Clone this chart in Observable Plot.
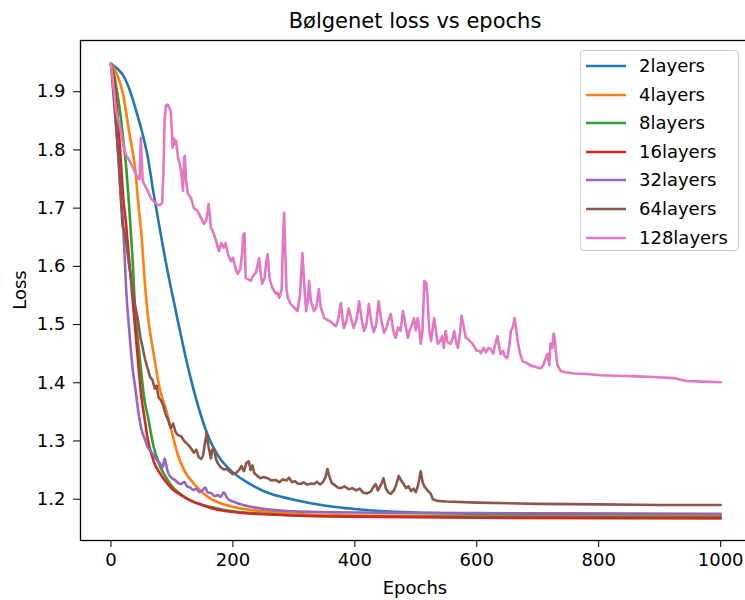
<!DOCTYPE html>
<html><head><meta charset="utf-8">
<script src="https://cdn.jsdelivr.net/npm/d3@7"></script>
<script src="https://cdn.jsdelivr.net/npm/@observablehq/plot@0.6"></script>
<style>
html,body{margin:0;padding:0;background:#fff;overflow:hidden;}
#wrap{position:relative;width:745px;height:600px;overflow:hidden;font-family:"DejaVu Sans",sans-serif;color:#000;background:#fff;}
#wrap > svg{position:absolute;left:0;top:0;max-width:none !important;width:750px;height:600px;}
.title{position:absolute;left:80px;width:670px;top:10.5px;text-align:center;font-size:21px;line-height:1;white-space:nowrap;}
.xlabel{position:absolute;left:415px;top:588px;transform:translate(-50%,-50%);font-size:18px;line-height:1;white-space:nowrap;}
.ylabel{position:absolute;left:20px;top:290px;transform:translate(-50%,-50%) rotate(-90deg);font-size:18px;line-height:1;white-space:nowrap;}
.legend{position:absolute;left:580px;top:50px;width:159px;height:201px;box-sizing:border-box;border:1px solid #cccccc;border-radius:4px;background:rgba(255,255,255,0.8);}
.legend .row{position:absolute;left:0;height:28px;display:flex;align-items:center;font-size:18px;line-height:1;white-space:nowrap;}
.legend svg{display:block;margin-left:5px;margin-right:13px;}
</style></head><body><div id="wrap"></div>
<script>
const chartTitle = "Bølgenet loss vs epochs";
const xLabel = "Epochs";
const yLabel = "Loss";
const seriesNames = ["2layers","4layers","8layers","16layers","32layers","64layers","128layers"];
const seriesColors = ["#1f77b4","#ff7f0e","#2ca02c","#d62728","#9467bd","#8c564b","#e377c2"];
const xTicks = [0,200,400,600,800,1000];
const yTicks = [1.2,1.3,1.4,1.5,1.6,1.7,1.8,1.9];

const loss2 = [[0,1.948],[10,1.940],[20,1.928],[30,1.905],[40,1.872],[50,1.835],[60,1.79],[70,1.725],[80,1.665],[90,1.607],[100,1.555],[110,1.505],[120,1.456],[130,1.411],[140,1.371],[150,1.336],[160,1.307],[170,1.285],[180,1.268],[190,1.256],[200,1.246],[225,1.228],[250,1.214],[300,1.199],[350,1.189],[400,1.183],[450,1.179],[500,1.177],[600,1.175],[700,1.174],[800,1.173],[1000,1.172]];
const loss4 = [[0,1.948],[10,1.93],[20,1.895],[30,1.83],[40,1.765],[46,1.695],[50,1.655],[55,1.58],[60,1.52],[70,1.45],[80,1.39],[90,1.355],[100,1.315],[110,1.275],[120,1.25],[140,1.222],[160,1.203],[180,1.193],[200,1.187],[225,1.182],[250,1.179],[300,1.175],[400,1.172],[600,1.171],[1000,1.170]];
const loss8 = [[0,1.948],[5,1.93],[10,1.90],[15,1.865],[20,1.82],[25,1.77],[30,1.70],[35,1.62],[40,1.52],[45,1.465],[50,1.415],[55,1.37],[60,1.345],[70,1.29],[80,1.258],[90,1.238],[100,1.222],[115,1.208],[130,1.198],[150,1.19],[170,1.185],[200,1.179],[250,1.175],[300,1.172],[400,1.170],[1000,1.169]];
const loss16 = [[0,1.948],[5,1.92],[10,1.87],[15,1.80],[20,1.72],[25,1.67],[30,1.61],[35,1.55],[40,1.49],[45,1.43],[50,1.375],[55,1.34],[60,1.305],[70,1.265],[80,1.245],[90,1.23],[100,1.218],[115,1.207],[130,1.198],[150,1.19],[170,1.183],[200,1.178],[250,1.174],[300,1.172],[400,1.170],[600,1.168],[1000,1.167]];
const loss32 = [[0,1.948],[5,1.90],[10,1.82],[15,1.74],[20,1.67],[25,1.56],[30,1.49],[35,1.43],[40,1.39],[45,1.35],[50,1.32],[55,1.305],[60,1.29],[65,1.283],[70,1.275],[75,1.268],[80,1.262],[85,1.255],[88,1.27],[90,1.262],[93,1.248],[98,1.238],[105,1.233],[110,1.228],[115,1.226],[120,1.23],[125,1.222],[130,1.22],[135,1.216],[140,1.218],[145,1.212],[150,1.215],[155,1.22],[158,1.212],[165,1.21],[170,1.205],[175,1.207],[180,1.204],[185,1.212],[190,1.203],[195,1.198],[200,1.196],[210,1.192],[220,1.189],[240,1.185],[260,1.182],[300,1.179],[400,1.177],[600,1.176],[1000,1.175]];
const loss64 = [[0,1.948],[3,1.91],[6,1.87],[10,1.82],[13,1.78],[16,1.72],[19,1.67],[22,1.66],[25,1.64],[30,1.60],[33,1.58],[36,1.555],[40,1.53],[44,1.51],[48,1.48],[52,1.46],[56,1.44],[60,1.425],[64,1.41],[68,1.405],[72,1.39],[75,1.395],[78,1.375],[82,1.37],[86,1.36],[90,1.345],[94,1.335],[98,1.322],[102,1.33],[106,1.315],[110,1.31],[115,1.308],[120,1.30],[125,1.295],[131,1.288],[136,1.28],[140,1.285],[144,1.272],[148,1.269],[151,1.275],[154,1.295],[157,1.314],[160,1.29],[164,1.27],[166,1.285],[169,1.286],[172,1.27],[175,1.262],[180,1.255],[185,1.251],[190,1.252],[195,1.247],[200,1.243],[205,1.245],[210,1.25],[214,1.257],[218,1.248],[222,1.262],[226,1.265],[229,1.25],[232,1.258],[235,1.245],[240,1.24],[245,1.236],[250,1.238],[257,1.236],[263,1.232],[270,1.233],[276,1.229],[282,1.234],[288,1.232],[292,1.237],[297,1.229],[302,1.231],[306,1.227],[311,1.226],[316,1.229],[322,1.225],[328,1.227],[333,1.226],[338,1.23],[343,1.225],[348,1.23],[352,1.238],[355,1.252],[358,1.24],[362,1.228],[366,1.225],[372,1.22],[377,1.219],[383,1.222],[390,1.217],[396,1.219],[402,1.215],[408,1.218],[414,1.211],[420,1.21],[426,1.213],[430,1.22],[434,1.226],[438,1.215],[443,1.225],[447,1.236],[451,1.218],[455,1.212],[459,1.209],[464,1.215],[468,1.225],[472,1.24],[476,1.232],[480,1.226],[484,1.219],[488,1.222],[492,1.214],[496,1.218],[500,1.212],[504,1.225],[508,1.248],[511,1.23],[514,1.222],[517,1.218],[520,1.214],[524,1.21],[528,1.2],[535,1.197],[550,1.196],[600,1.194],[700,1.192],[800,1.191],[900,1.19],[1000,1.19]];
const loss128 = [[0,1.948],[3,1.92],[5,1.90],[8,1.87],[11,1.855],[14,1.845],[16,1.833],[19,1.815],[21,1.804],[25,1.79],[28,1.786],[32,1.778],[36,1.77],[40,1.76],[44,1.752],[47,1.75],[49,1.821],[51,1.77],[52,1.747],[56,1.738],[60,1.73],[66,1.716],[71,1.711],[76,1.706],[80,1.705],[84,1.709],[86,1.76],[88,1.85],[90,1.876],[93,1.878],[96,1.872],[98,1.867],[100,1.83],[101,1.804],[103,1.82],[105,1.81],[107,1.816],[110,1.786],[113,1.775],[115,1.764],[118,1.73],[120,1.786],[121,1.79],[123,1.75],[126,1.725],[131,1.718],[136,1.70],[142,1.695],[147,1.685],[152,1.673],[156,1.678],[158,1.69],[160,1.707],[162,1.69],[164,1.666],[167,1.661],[172,1.645],[177,1.626],[181,1.64],[185,1.632],[188,1.64],[192,1.62],[197,1.609],[200,1.615],[204,1.598],[208,1.587],[212,1.595],[215,1.62],[217,1.655],[219,1.657],[221,1.58],[225,1.578],[229,1.575],[234,1.585],[238,1.59],[241,1.605],[243,1.614],[246,1.585],[248,1.57],[252,1.58],[255,1.61],[257,1.621],[260,1.58],[264,1.565],[270,1.553],[273,1.555],[276,1.546],[280,1.56],[282,1.64],[284,1.692],[286,1.62],[288,1.56],[290,1.546],[295,1.535],[300,1.53],[304,1.525],[306,1.523],[310,1.55],[314,1.623],[317,1.57],[320,1.523],[323,1.54],[325,1.575],[328,1.54],[333,1.523],[337,1.53],[341,1.561],[344,1.53],[350,1.511],[355,1.508],[360,1.505],[365,1.50],[369,1.497],[373,1.51],[377,1.537],[380,1.51],[382,1.494],[386,1.505],[390,1.528],[394,1.51],[398,1.494],[403,1.51],[407,1.54],[411,1.51],[415,1.489],[419,1.50],[423,1.535],[427,1.505],[431,1.487],[435,1.50],[439,1.54],[443,1.51],[448,1.486],[452,1.495],[456,1.51],[459,1.518],[463,1.49],[467,1.477],[471,1.495],[475,1.489],[479,1.523],[483,1.50],[487,1.477],[490,1.49],[494,1.50],[497,1.511],[500,1.49],[503,1.511],[506,1.49],[508,1.467],[511,1.49],[514,1.575],[517,1.572],[519,1.55],[522,1.49],[525,1.472],[528,1.495],[530,1.511],[533,1.49],[536,1.467],[540,1.472],[543,1.48],[546,1.46],[549,1.489],[552,1.47],[557,1.467],[560,1.475],[563,1.489],[566,1.47],[569,1.46],[572,1.48],[575,1.515],[578,1.50],[582,1.477],[586,1.475],[590,1.47],[593,1.467],[597,1.46],[600,1.455],[604,1.455],[607,1.451],[611,1.46],[615,1.452],[619,1.46],[623,1.458],[627,1.45],[630,1.465],[634,1.48],[637,1.46],[639,1.449],[643,1.455],[646,1.445],[650,1.442],[653,1.46],[656,1.489],[659,1.495],[662,1.511],[665,1.49],[667,1.472],[671,1.45],[675,1.437],[680,1.435],[685,1.432],[689,1.429],[695,1.428],[700,1.426],[705,1.425],[709,1.43],[713,1.442],[716,1.45],[719,1.43],[721,1.468],[724,1.46],[726,1.484],[728,1.475],[730,1.45],[732,1.432],[735,1.425],[738,1.42],[745,1.418],[760,1.416],[780,1.415],[803,1.413],[830,1.412],[860,1.411],[890,1.41],[923,1.408],[935,1.405],[945,1.403],[970,1.402],[1000,1.401]];

const seriesData = [loss2, loss4, loss8, loss16, loss32, loss64, loss128];
const noisy = new Set(["64layers","128layers"]);

const rows = seriesNames.flatMap((name, i) => seriesData[i].map(([epoch, loss]) => ({series: name, epoch, loss})));

const lineMarks = seriesNames.map(name => Plot.line(rows.filter(r => r.series === name), {
  x: "epoch", y: "loss", stroke: "series", strokeWidth: 2.6,
  curve: noisy.has(name) ? "linear" : "monotone-x"
}));

const chart = Plot.plot({
  width: 750, height: 600,
  marginLeft: 80, marginRight: 0, marginTop: 40, marginBottom: 60,
  x: {domain: [-49.95, 1048.95]},
  y: {domain: [1.129, 1.988]},
  color: {domain: seriesNames, range: seriesColors},
  style: {fontFamily: "DejaVu Sans", fontSize: "18px", background: "white", color: "black", maxWidth: "none"},
  marks: [
    ...lineMarks,
    Plot.frame({stroke: "black", strokeWidth: 1.3}),
    Plot.axisX({ticks: xTicks, tickSize: 7, tickPadding: 6, label: null, tickFormat: d => String(d)}),
    Plot.axisY({ticks: yTicks, tickSize: 7, tickPadding: 8, label: null, tickFormat: d => d.toFixed(1)})
  ]
});

const wrap = document.getElementById("wrap");
wrap.appendChild(chart);

const t = document.createElement("div"); t.className = "title"; t.textContent = chartTitle; wrap.appendChild(t);
const xl = document.createElement("div"); xl.className = "xlabel"; xl.textContent = xLabel; wrap.appendChild(xl);
const yl = document.createElement("div"); yl.className = "ylabel"; yl.textContent = yLabel; wrap.appendChild(yl);

const lg = document.createElement("div"); lg.className = "legend";
seriesNames.forEach((name, i) => {
  const row = document.createElement("div"); row.className = "row";
  row.style.top = (1 + Math.round(i * 28.6)) + "px";
  const ns = "http://www.w3.org/2000/svg";
  const sw = document.createElementNS(ns, "svg"); sw.setAttribute("width", "40"); sw.setAttribute("height", "6");
  const ln = document.createElementNS(ns, "line");
  ln.setAttribute("x1", "0"); ln.setAttribute("x2", "40"); ln.setAttribute("y1", "3"); ln.setAttribute("y2", "3");
  ln.setAttribute("stroke", seriesColors[i]); ln.setAttribute("stroke-width", "2.6");
  sw.appendChild(ln);
  const tx = document.createElement("span"); tx.textContent = name;
  row.appendChild(sw); row.appendChild(tx); lg.appendChild(row);
});
wrap.appendChild(lg);
</script>
</body></html>
